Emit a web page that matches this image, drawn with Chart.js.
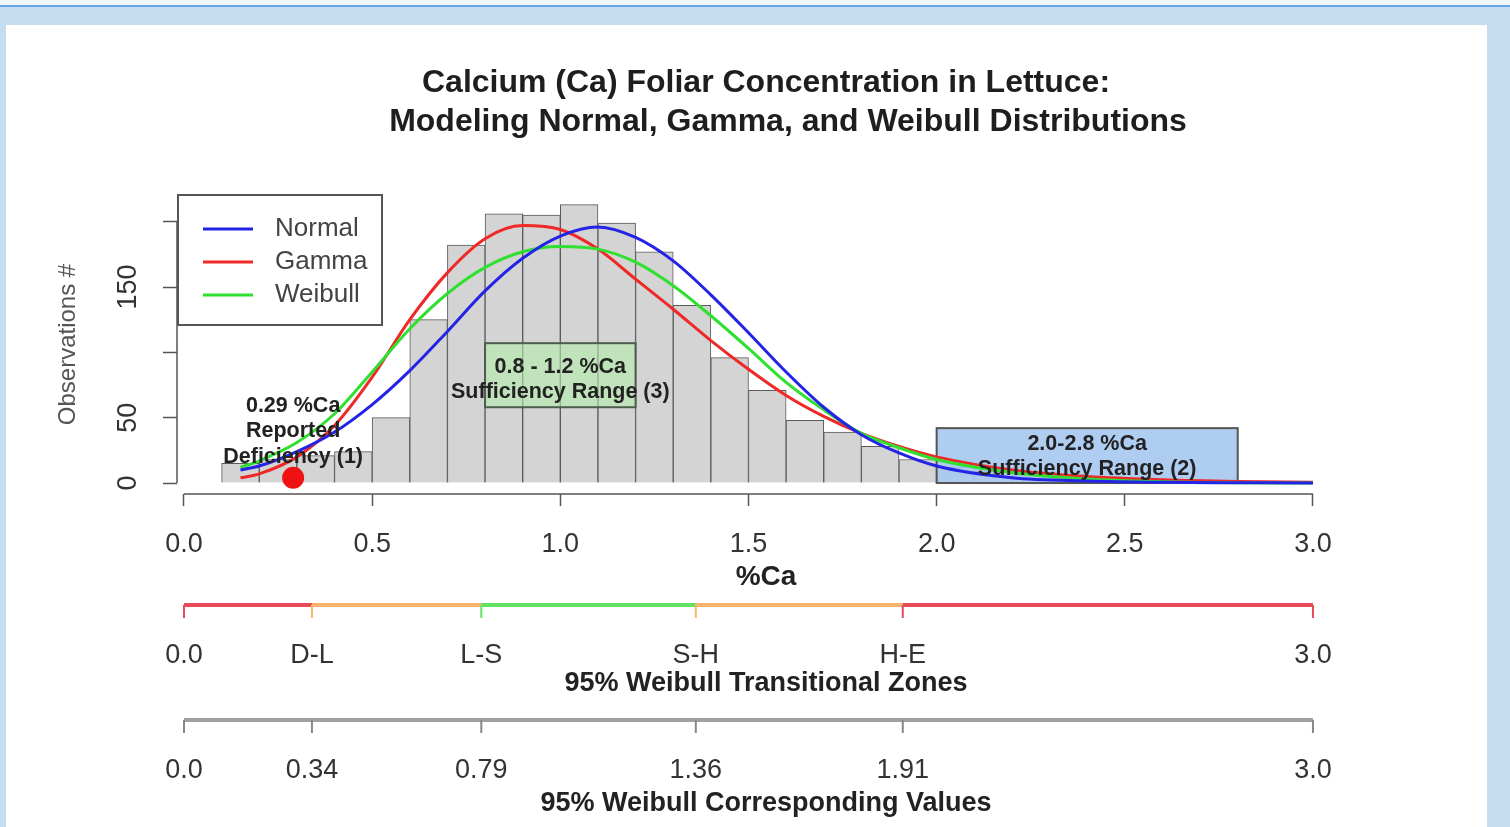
<!DOCTYPE html>
<html>
<head>
<meta charset="utf-8">
<title>Calcium (Ca) Foliar Concentration in Lettuce</title>
<script src="https://cdn.jsdelivr.net/npm/chart.js@4.4.1/dist/chart.umd.min.js"></script>
<style>
    html, body { margin: 0; padding: 0; }
    body { width: 1510px; height: 827px; position: relative; overflow: hidden; background: #c6dcf0; }
    #topStrip { position: absolute; left: 0; top: 0; width: 1510px; height: 5px; background: #eef5fb; }
    #topLine { position: absolute; left: 0; top: 5px; width: 1510px; height: 2px; background: #64a8e2; }
    #panel { position: absolute; left: 6px; top: 25px; width: 1481px; height: 802px; background: #ffffff; }
    #chart { position: absolute; left: 0; top: 0; }
</style>
</head>
<body>
<div id="topStrip"></div>
<div id="topLine"></div>
<div id="panel"></div>
<canvas id="chart" width="1510" height="827"></canvas>

<script>
// ---------- Data ----------
const titleLines = ["Calcium (Ca) Foliar Concentration in Lettuce:", "Modeling Normal, Gamma, and Weibull Distributions"];

// histogram, bins of 0.1 %Ca
const binCenters = [0.15, 0.25, 0.35, 0.45, 0.55, 0.65, 0.75, 0.85, 0.95, 1.05,
                    1.15, 1.25, 1.35, 1.45, 1.55, 1.65, 1.75, 1.85, 1.95, 2.05,
                    2.15, 2.25, 2.35, 2.45, 2.55, 2.65, 2.75, 2.85, 2.95];
const binCounts = [15, 18, 21, 24, 50, 125, 182, 206, 205, 213,
                   199, 177, 136, 96, 71, 48, 39, 28, 18, 12,
                   9, 6, 4, 3, 2, 1, 1, 0, 1];

// fitted curves
const seriesNames = ["Normal", "Gamma", "Weibull"];
const curveX = [0.15, 0.2, 0.3, 0.4, 0.5, 0.6, 0.7, 0.8, 0.9, 1.0,
                1.1, 1.2, 1.3, 1.4, 1.5, 1.6, 1.7, 1.8, 1.9, 2.0,
                2.2, 2.4, 2.6, 2.8, 3.0];
const normalY = [10, 13, 24, 39, 60, 86, 116, 147, 172, 189,
                 196, 188, 170, 144, 115, 85, 58, 37, 23, 13,
                 4, 1.5, 0.5, 0.2, 0];
const gammaY = [4, 7, 20, 44, 81, 125, 161, 187, 197, 194,
                179, 156, 133, 109, 87, 67, 51, 38, 28, 20,
                10, 5, 2.5, 1.2, 0.5];
const weibullY = [12, 17, 31, 53, 85, 118, 145, 165, 177, 181,
                  179, 169, 151, 128, 103, 77, 56, 38, 27, 18,
                  8, 3, 1, 0.3, 0];

// annotations
const deficiencyX = 0.29;
const deficiencyCount = 4;
const deficiencyText = ["0.29 %Ca", "Reported", "Deficiency (1)"];
const rangeLow = [0.8, 2.0];
const rangeHigh = [1.2, 2.8];
const rangeCountLow = [58, 0];
const rangeCountHigh = [107, 42];
const rangeText = [["0.8 - 1.2 %Ca", "Sufficiency Range (3)"], ["2.0-2.8 %Ca", "Sufficiency Range (2)"]];

// axes
const xTicks = [0, 0.5, 1.0, 1.5, 2.0, 2.5, 3.0];
const yTicks = [0, 50, 100, 150, 200];
const yTickLabels = ["0", "50", "", "150", ""];
const zoneBreaks = [0, 0.34, 0.79, 1.36, 1.91, 3.0];
const zoneLabels = ["0.0", "D-L", "L-S", "S-H", "H-E", "3.0"];
const zoneValueLabels = ["0.0", "0.34", "0.79", "1.36", "1.91", "3.0"];
const zoneColors = ["#e84b58", "#f7b46a", "#62e262", "#f7b46a", "#e84b58"];
const zoneTitle = "95% Weibull Transitional Zones";
const valueTitle = "95% Weibull Corresponding Values";

// ---------- Helpers ----------
const FONT = "'Liberation Sans', Arial, Helvetica, sans-serif";

function toPoints(xs, ys) {
    return xs.map((x, i) => ({ x: x, y: ys[i] }));
}

function textLines(ctx, lines, x, y, gap) {
    lines.forEach((t, i) => ctx.fillText(t, x, y + i * gap));
}

// ---------- Extra drawing ----------
const extras = {
    id: "extras",

    // shaded ranges sit over the bars but under the curves
    afterDatasetDraw(chart, args) {
        if (args.meta.type !== "bar") return;
        const { ctx, scales: { x, y } } = chart;
        const fills = ["rgba(180, 236, 170, 0.6)", "rgba(168, 200, 240, 0.92)"];
        const strokes = ["#4d5d4d", "#555555"];
        ctx.save();
        rangeLow.forEach((lo, i) => {
            const x0 = x.getPixelForValue(lo), x1 = x.getPixelForValue(rangeHigh[i]);
            const y0 = y.getPixelForValue(rangeCountHigh[i]), y1 = y.getPixelForValue(rangeCountLow[i]);
            ctx.fillStyle = fills[i];
            ctx.fillRect(x0, y0, x1 - x0, y1 - y0);
            ctx.strokeStyle = strokes[i];
            ctx.lineWidth = 2;
            ctx.strokeRect(x0, y0, x1 - x0, y1 - y0);
        });
        ctx.restore();
    },

    afterDatasetsDraw(chart) {
        const { ctx, scales: { x, y } } = chart;
        ctx.save();
        ctx.fillStyle = "#222";
        ctx.font = "bold 21.5px " + FONT;
        ctx.textAlign = "center";
        ctx.textBaseline = "middle";

        textLines(ctx, deficiencyText, x.getPixelForValue(deficiencyX), y.getPixelForValue(59), 25.5);

        const firstLine = [89, 30];
        rangeText.forEach((lines, i) => {
            const cx = x.getPixelForValue((rangeLow[i] + rangeHigh[i]) / 2);
            textLines(ctx, lines, cx, y.getPixelForValue(firstLine[i]), 25);
        });
        ctx.restore();
    },

    afterDraw(chart) {
        const { ctx, chartArea, scales: { x, y } } = chart;
        const cx = (chartArea.left + chartArea.right) / 2;
        ctx.save();

        // title
        ctx.fillStyle = "#1e1e1e";
        ctx.font = "bold 32px " + FONT;
        ctx.textAlign = "center";
        ctx.textBaseline = "middle";
        ctx.fillText(titleLines[0], cx, 83);
        ctx.fillText(titleLines[1], cx + 22, 122);

        // main axis lines (from first to last tick, like R)
        ctx.strokeStyle = "#555";
        ctx.lineWidth = 1.5;
        ctx.beginPath();
        ctx.moveTo(x.getPixelForValue(xTicks[0]), chartArea.bottom);
        ctx.lineTo(x.getPixelForValue(xTicks[xTicks.length - 1]), chartArea.bottom);
        ctx.moveTo(chartArea.left, y.getPixelForValue(yTicks[0]));
        ctx.lineTo(chartArea.left, y.getPixelForValue(yTicks[yTicks.length - 1]));
        ctx.stroke();

        // legend
        const lx = chartArea.left + 1, ly = chartArea.top;
        ctx.fillStyle = "#fff";
        ctx.fillRect(lx, ly, 204, 130);
        ctx.strokeStyle = "#555";
        ctx.lineWidth = 2;
        ctx.strokeRect(lx, ly, 204, 130);
        ctx.font = "26px " + FONT;
        ctx.textAlign = "left";
        seriesNames.forEach((name, i) => {
            const d = chart.data.datasets.find(ds => ds.label === name);
            const ry = ly + 34 + i * 33;
            ctx.strokeStyle = d.borderColor;
            ctx.lineWidth = 3;
            ctx.beginPath();
            ctx.moveTo(lx + 25, ry);
            ctx.lineTo(lx + 75, ry);
            ctx.stroke();
            ctx.fillStyle = "#444";
            ctx.fillText(d.label, lx + 97, ry);
        });

        // transitional-zone axis
        const zy = 605, vy = 720, tick = 13;
        ctx.lineWidth = 4;
        ctx.lineCap = "butt";
        for (let i = 0; i < zoneBreaks.length - 1; i++) {
            ctx.strokeStyle = zoneColors[i];
            ctx.beginPath();
            ctx.moveTo(x.getPixelForValue(zoneBreaks[i]), zy);
            ctx.lineTo(x.getPixelForValue(zoneBreaks[i + 1]), zy);
            ctx.stroke();
        }
        ctx.lineWidth = 2;
        zoneBreaks.forEach((v, i) => {
            const px = x.getPixelForValue(v);
            ctx.strokeStyle = zoneColors[Math.min(i, zoneColors.length - 1)];
            ctx.beginPath();
            ctx.moveTo(px, zy);
            ctx.lineTo(px, zy + tick);
            ctx.stroke();
        });

        // corresponding-values axis
        ctx.strokeStyle = "#a0a0a0";
        ctx.lineWidth = 4;
        ctx.beginPath();
        ctx.moveTo(x.getPixelForValue(zoneBreaks[0]), vy);
        ctx.lineTo(x.getPixelForValue(zoneBreaks[zoneBreaks.length - 1]), vy);
        ctx.stroke();
        ctx.lineWidth = 2;
        ctx.strokeStyle = "#888";
        zoneBreaks.forEach(v => {
            const px = x.getPixelForValue(v);
            ctx.beginPath();
            ctx.moveTo(px, vy);
            ctx.lineTo(px, vy + tick);
            ctx.stroke();
        });

        // labels for the two lower axes
        ctx.textAlign = "center";
        ctx.fillStyle = "#333";
        ctx.font = "27px " + FONT;
        zoneBreaks.forEach((v, i) => {
            const px = x.getPixelForValue(v);
            ctx.fillText(zoneLabels[i], px, 656);
            ctx.fillText(zoneValueLabels[i], px, 771);
        });
        ctx.fillStyle = "#222";
        ctx.font = "bold 27px " + FONT;
        ctx.fillText(zoneTitle, cx, 684);
        ctx.fillText(valueTitle, cx, 804);

        ctx.restore();
    }
};

// ---------- Chart ----------
new Chart(document.getElementById("chart"), {
    type: "bar",
    data: {
        datasets: [
            {
                type: "line",
                label: "",
                data: [{ x: deficiencyX, y: deficiencyCount }],
                showLine: false,
                pointRadius: 11,
                pointBackgroundColor: "#f01212",
                pointBorderWidth: 0,
                order: 0
            },
            {
                type: "line",
                label: seriesNames[0],
                data: toPoints(curveX, normalY),
                borderColor: "#2424e6",
                borderWidth: 3,
                pointRadius: 0,
                cubicInterpolationMode: "monotone",
                order: 1
            },
            {
                type: "line",
                label: seriesNames[2],
                data: toPoints(curveX, weibullY),
                borderColor: "#30e030",
                borderWidth: 3,
                pointRadius: 0,
                cubicInterpolationMode: "monotone",
                order: 2
            },
            {
                type: "line",
                label: seriesNames[1],
                data: toPoints(curveX, gammaY),
                borderColor: "#ef2828",
                borderWidth: 3,
                pointRadius: 0,
                cubicInterpolationMode: "monotone",
                order: 3
            },
            {
                type: "bar",
                label: "Histogram",
                data: toPoints(binCenters, binCounts),
                backgroundColor: "#d4d4d4",
                borderColor: "#5a5a5a",
                borderWidth: 1,
                barPercentage: 1,
                categoryPercentage: 1,
                grouped: false,
                order: 10
            }
        ]
    },
    options: {
        responsive: false,
        animation: false,
        devicePixelRatio: 1,
        layout: { padding: { top: 195, right: 155, bottom: 233, left: 0 } },
        plugins: {
            legend: { display: false },
            title: { display: false },
            tooltip: { enabled: false }
        },
        scales: {
            x: {
                type: "linear",
                offset: false,
                min: -0.0186,
                max: 3.1117,
                afterBuildTicks: s => { s.ticks = xTicks.map(v => ({ value: v })); },
                afterFit: s => { s.height = 100; },
                border: { display: false },
                grid: { offset: false, drawOnChartArea: false, drawTicks: true, tickLength: 12, tickColor: "#555", tickWidth: 1.5 },
                ticks: {
                    color: "#333",
                    font: { family: FONT, size: 27 },
                    padding: 22,
                    maxRotation: 0,
                    autoSkip: false,
                    callback: v => Number(v).toFixed(1)
                },
                title: {
                    display: true,
                    text: "%Ca",
                    color: "#222",
                    font: { family: FONT, size: 28, weight: "bold" },
                    padding: { top: 0, bottom: 0 }
                }
            },
            y: {
                type: "linear",
                min: -8.4,
                max: 220.4,
                afterBuildTicks: s => { s.ticks = yTicks.map(v => ({ value: v })); },
                afterFit: s => { s.width = 177; },
                border: { display: false },
                grid: { drawOnChartArea: false, drawTicks: true, tickLength: 14, tickColor: "#555", tickWidth: 1.5 },
                ticks: {
                    color: "#333",
                    font: { family: FONT, size: 27 },
                    padding: 12,
                    minRotation: 90,
                    maxRotation: 90,
                    crossAlign: "center",
                    autoSkip: false,
                    callback: (v, i) => yTickLabels[i]
                },
                title: {
                    display: true,
                    text: "Observations #",
                    color: "#555",
                    font: { family: FONT, size: 24 },
                    padding: { top: 54, bottom: 0 }
                }
            }
        }
    },
    plugins: [extras]
});
</script>
</body>
</html>
